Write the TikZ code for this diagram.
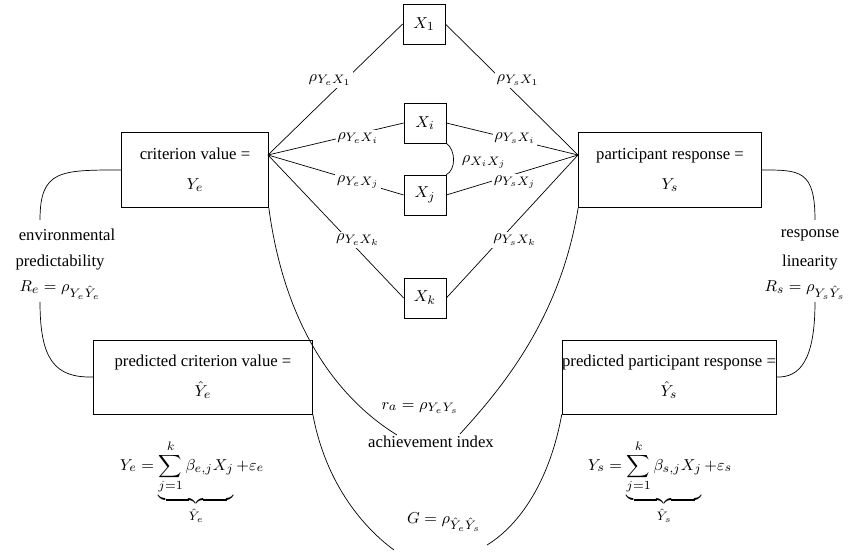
\documentclass[tikz,border=0pt]{standalone}
\usepackage{fontspec}
\setmainfont{Liberation Serif}
\usepackage{amsmath}
\usetikzlibrary{positioning}

\begin{document}
\begin{tikzpicture}[
    x=0.02cm, y=-0.02cm,
    font=\fontsize{9.5}{11}\selectfont,
    cue/.style={rectangle, draw, minimum width=0.84cm, minimum height=0.8cm},
    box/.style={rectangle, draw, align=center, inner sep=0pt},
    lbl/.style={inner sep=1pt},
    link/.style={thin}
  ]
  \useasboundingbox (0,0) rectangle (850,553);

  % cues
  \node[cue] (x1) at (424,24) {$X_1$};
  \node[cue] (xi) at (425,123) {$X_i$};
  \node[cue] (xj) at (425,195) {$X_j$};
  \node[cue] (xk) at (425,298) {$X_k$};

  % criterion and response
  \node[box, minimum width=2.94cm, minimum height=1.5cm] (crit) at (195,170) {criterion value =\\[6pt] $Y_e$};
  \node[box, minimum width=3.66cm, minimum height=1.5cm] (resp) at (670,170) {participant response =\\[6pt] $Y_s$};
  \node[box, minimum width=4.38cm, minimum height=1.48cm] (pcrit) at (203,377) {predicted criterion value =\\[6pt] $\hat{Y}_e$};
  \node[box, minimum width=4.2cm, minimum height=1.48cm] (presp) at (669,377) {predicted participant response =\\[6pt] $\hat{Y}_s$};

  \coordinate (cl) at (268,155);
  \coordinate (cr) at (578,155);

  % lens
  \draw[link] (cl) -- (x1.west);
  \draw[link] (cl) -- (xi.west);
  \draw[link] (cl) -- (xj.west);
  \draw[link] (cl) -- (xk.west);
  \draw[link] (cr) -- (x1.east);
  \draw[link] (cr) -- (xi.east);
  \draw[link] (cr) -- (xj.east);
  \draw[link] (cr) -- (xk.east);
  \draw[link] (xi.south east) .. controls (456,150) and (456,170) .. (xj.north east);

  \node[lbl, fill=white] (l1) at (330,80) {$\rho_{Y_eX_1}$};
  \node[lbl, fill=white] (r1) at (518,80) {$\rho_{Y_sX_1}$};
  \node[lbl, fill=white] (li) at (358,138) {$\rho_{Y_eX_i}$};
  \node[lbl, fill=white] (ri) at (515,138) {$\rho_{Y_sX_i}$};
  \node[lbl, fill=white] (lj) at (358,182) {$\rho_{Y_eX_j}$};
  \node[lbl, fill=white] (rj) at (515,182) {$\rho_{Y_sX_j}$};
  \node[lbl, fill=white] (lk) at (358,240) {$\rho_{Y_eX_k}$};
  \node[lbl, fill=white] (rk) at (515,240) {$\rho_{Y_sX_k}$};
  \node[lbl] (rij) at (484,162) {$\rho_{X_iX_j}$};

  % achievement
  \node[lbl] (ra) at (420,408) {$r_a=\rho_{Y_eY_s}$};
  \node[lbl] (ach) at (431,442) {achievement index};
  \draw[link] (crit.south east) .. controls (285,330) and (340,400) .. (397,435);
  \draw[link] (resp.south west) .. controls (560,320) and (500,390) .. (460,434);

  % matching index
  \node[lbl] (g) at (444,522) {$G=\rho_{\hat{Y}_e\hat{Y}_s}$};
  \draw[link] (pcrit.south east) .. controls (325,480) and (360,525) .. (394,550);
  \draw[link] (presp.south west) .. controls (550,480) and (520,525) .. (487,545);

  % ecological validity
  \node[lbl] (env) at (67,235) {environmental};
  \node[lbl] (pred) at (60,263) {predictability};
  \node[lbl] (re) at (60,290) {$R_e=\rho_{Y_e\hat{Y}_e}$};
  \draw[link] (crit.west) .. controls (60,170) and (40,170) .. (40,220);
  \draw[link] (40,302) .. controls (40,360) and (55,378) .. (pcrit.west);

  % response linearity
  \node[lbl] (rsp) at (810,235) {response};
  \node[lbl] (lin) at (810,263) {linearity};
  \node[lbl] (rs) at (805,290) {$R_s=\rho_{Y_s\hat{Y}_s}$};
  \draw[link] (resp.east) .. controls (800,170) and (815,170) .. (815,220);
  \draw[link] (815,302) .. controls (815,360) and (800,378) .. (presp.east);

  % models
  \node (eqe) at (192,482) {$Y_e=\underbrace{\sum_{j=1}^{k}\beta_{e,j}X_j}_{\hat{Y}_e}+\varepsilon_e$};
  \node (eqs) at (660,482) {$Y_s=\underbrace{\sum_{j=1}^{k}\beta_{s,j}X_j}_{\hat{Y}_s}+\varepsilon_s$};
\end{tikzpicture}
\end{document}
